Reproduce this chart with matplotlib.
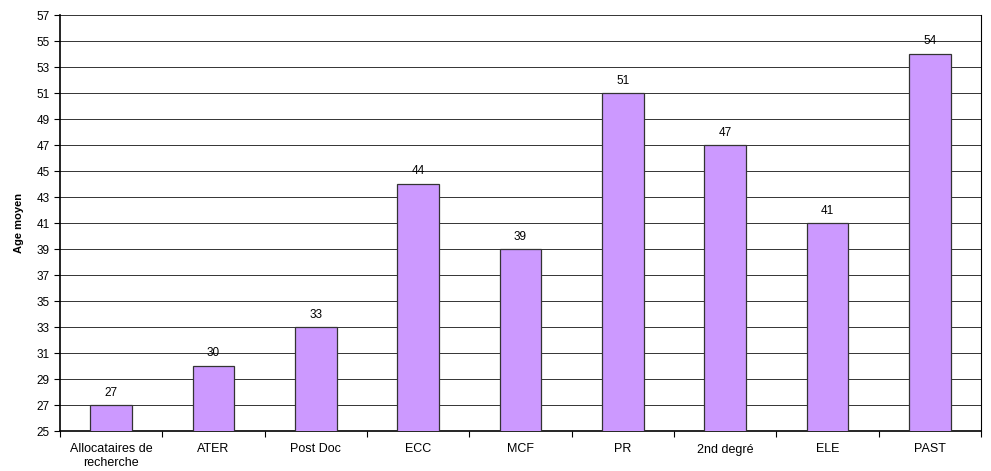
import matplotlib.pyplot as plt
import numpy as np

plt.rcParams['font.family'] = ['Liberation Sans', 'DejaVu Sans']

# categories and mean ages
categories = ["Allocataires de\nrecherche", "ATER", "Post Doc", "ECC", "MCF",
              "PR", "2nd degré", "ELE", "PAST"]
ages = [27, 30, 33, 44, 39, 51, 47, 41, 54]
y_ticks = list(range(25, 58, 2))

fig = plt.figure(figsize=(9.91, 4.71), dpi=100)
ax = fig.add_axes([60 / 991, 1 - 431 / 471, 921 / 991, 416 / 471])

x = np.arange(len(categories))
ax.bar(x, ages, width=0.41, color="#CC99FF",
       edgecolor="#333333", linewidth=0.9, zorder=3)

# value labels above each bar
for xi, v in zip(x, ages):
    ax.text(xi, v + 0.5, str(v), ha="center", va="bottom", fontsize=8.5, zorder=4)

ax.set_ylim(25, 57)
ax.set_xlim(-0.5, len(categories) - 0.5)
ax.set_yticks(y_ticks)
ax.tick_params(axis="y", labelsize=8.5, length=4, width=0.8, direction="out")
ax.yaxis.grid(True, color="#333333", linewidth=0.7, zorder=0)

# x ticks sit between the categories, labels centred under bars
ax.set_xticks(np.arange(-0.5, len(categories), 1))
ax.set_xticklabels([])
ax.set_xticks(x, minor=True)
ax.set_xticklabels(categories, minor=True, fontsize=9)
ax.tick_params(axis="x", which="major", length=4, width=0.8)
ax.tick_params(axis="x", which="minor", length=0, pad=9)

ax.set_ylabel("Age moyen", fontsize=8, fontweight="bold", labelpad=9)

for side in ["left", "bottom"]:
    ax.spines[side].set_linewidth(1.2)
ax.spines["right"].set_linewidth(0.8)
ax.spines["top"].set_visible(False)

fig.savefig("out.png", dpi=100)
